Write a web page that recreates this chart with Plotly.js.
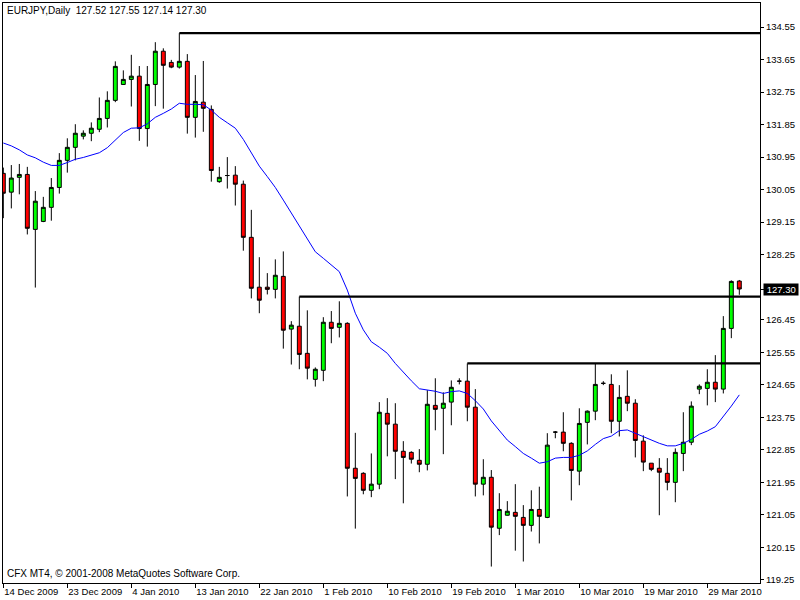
<!DOCTYPE html>
<html>
<head>
<meta charset="utf-8">
<script src="https://cdn.plot.ly/plotly-3.0.1.min.js"></script>
<style>
  html, body { margin: 0; padding: 0; background: #ffffff; }
  #chart { width: 800px; height: 600px; }
</style>
</head>
<body>
<div id="chart"></div>
<script>
// ---- Data (EURJPY, Daily) : one entry per bar, left to right ----
const openP  = [130.50,129.98,130.39,130.47,128.95,129.17,129.56,130.11,130.86,131.22,
                131.53,131.61,131.72,132.02,132.52,132.96,133.10,133.19,131.74,132.96,
                133.88,133.57,133.44,133.60,132.05,132.47,132.27,130.27,130.44,130.45,
                130.20,128.73,127.35,127.35,127.29,127.65,126.19,126.27,125.52,124.80,
                125.05,126.38,126.24,126.35,122.34,122.20,121.73,121.90,123.86,123.56,
                122.81,122.78,122.56,122.45,124.08,124.00,124.17,124.75,124.75,124.03,
                121.90,122.09,120.68,121.04,121.12,120.98,120.76,121.20,120.98,123.34,
                123.34,123.03,122.26,123.61,123.92,124.69,124.66,123.64,124.33,124.14,
                123.09,122.48,122.34,122.20,121.95,122.75,123.06,124.53,124.55,124.72,
                124.53,126.21,127.52];
const highP  = [130.66,130.73,130.76,130.68,130.01,129.85,130.37,131.06,131.47,131.86,
                131.69,131.91,132.60,132.77,133.60,133.35,133.78,133.47,133.47,134.13,
                133.96,133.64,134.38,133.80,133.22,133.61,132.38,130.68,130.95,130.70,
                130.30,129.49,128.18,127.74,128.12,128.34,126.41,127.09,126.71,125.13,
                126.52,126.69,126.96,126.38,123.32,122.23,122.75,124.17,124.28,124.14,
                123.09,122.81,122.87,124.50,124.83,124.44,124.77,124.83,125.24,124.53,
                122.59,122.29,121.65,121.43,121.90,121.32,121.73,121.83,123.31,123.37,
                123.89,123.06,124.00,123.94,125.24,124.75,124.94,124.64,125.05,124.25,
                123.25,122.48,122.62,122.62,122.89,123.89,124.19,124.66,125.08,125.47,
                126.55,127.54,127.55];
const lowP   = [129.26,129.53,129.92,128.81,127.34,129.15,129.19,129.94,130.52,130.86,
                131.44,131.39,131.64,131.77,132.47,132.95,132.35,131.40,131.24,132.36,
                132.29,133.41,133.40,131.60,131.49,131.65,130.27,130.24,130.08,129.61,
                128.36,127.04,126.63,127.15,127.04,125.65,125.21,125.08,124.80,124.60,
                124.75,125.80,125.96,121.56,120.67,121.62,121.54,121.76,122.67,122.04,
                121.37,122.47,122.23,122.28,123.39,122.73,123.53,124.66,123.64,121.56,
                121.59,119.62,120.49,121.03,120.06,119.76,120.59,120.26,120.96,123.17,
                122.81,121.45,121.87,123.00,123.67,124.64,123.31,123.22,123.92,122.64,
                122.26,122.26,121.04,121.73,121.40,122.26,122.98,124.39,124.08,124.17,
                124.41,125.94,127.14];
const closeP = [129.95,130.37,130.47,128.98,129.73,129.56,130.11,130.86,131.22,131.61,
                131.61,131.75,132.02,132.52,133.46,133.10,133.19,131.74,132.96,133.88,
                133.49,133.44,133.60,132.05,132.49,132.30,130.58,130.39,130.44,130.20,
                128.73,127.32,126.99,127.29,127.68,126.16,126.30,125.49,125.11,125.08,
                126.38,126.21,126.35,122.34,122.06,121.73,121.90,123.89,123.56,122.81,
                122.64,122.59,122.45,124.11,123.97,124.14,124.58,124.75,124.03,121.90,
                122.09,120.71,121.20,121.15,121.01,120.76,121.20,121.01,122.98,123.34,
                123.03,122.28,123.58,123.92,124.66,124.69,123.64,124.30,124.14,123.11,
                122.51,122.31,122.23,121.95,122.78,123.06,124.06,124.61,124.72,124.53,
                126.21,127.51,127.30];
// moving average (blue line)
const maValues = [131.34,131.26,131.15,131.01,130.93,130.81,130.72,130.72,130.80,130.89,
                  130.94,131.00,131.07,131.21,131.42,131.63,131.75,131.76,131.87,132.05,
                  132.16,132.28,132.44,132.41,132.41,132.40,132.25,132.05,131.90,131.75,
                  131.44,131.06,130.70,130.41,130.11,129.76,129.40,129.02,128.66,128.33,
                  128.15,127.97,127.78,127.27,126.63,126.17,125.84,125.69,125.52,125.24,
                  124.99,124.76,124.54,124.51,124.47,124.41,124.46,124.48,124.41,124.21,
                  123.98,123.65,123.37,123.12,122.94,122.75,122.62,122.48,122.52,122.62,
                  122.64,122.64,122.70,122.82,123.00,123.16,123.23,123.38,123.40,123.31,
                  123.20,123.12,123.03,122.96,122.96,123.03,123.14,123.28,123.37,123.49,
                  123.77,124.06,124.37];
// horizontal resistance levels: starting bar and price
const levelStartBar = [22, 37, 58];
const levelPrice    = [134.38, 127.09, 125.24];
// date labels every 8 bars
const dateTickBars   = [0, 8, 16, 24, 32, 40, 48, 56, 64, 72, 80, 88];
const dateTickLabels = ["14 Dec 2009","23 Dec 2009","4 Jan 2010","13 Jan 2010","22 Jan 2010",
                        "1 Feb 2010","10 Feb 2010","19 Feb 2010","1 Mar 2010","10 Mar 2010",
                        "19 Mar 2010","29 Mar 2010"];
// price scale labels
const priceTicks = [134.55,133.65,132.75,131.85,130.95,130.05,129.15,128.25,
                    126.45,125.55,124.65,123.75,122.85,121.95,121.05,120.15,119.25];
const symbolTitle = "EURJPY,Daily";
const lastBar = {open: 127.52, high: 127.55, low: 127.14, close: 127.30};
const copyright = "CFX MT4, \u00a9 2001-2008 MetaQuotes Software Corp.";

// ---- Build ----
const barIndex = openP.map((_, i) => i);
const FONT = "Tahoma, 'Liberation Sans', Arial, sans-serif";

const traces = [];
traces.push({
  type: 'candlestick',
  x: barIndex, open: openP, high: highP, low: lowP, close: closeP,
  increasing: {line: {color: '#000000', width: 1}, fillcolor: '#00ff00'},
  decreasing: {line: {color: '#000000', width: 1}, fillcolor: '#ff0000'},
  whiskerwidth: 0,
  showlegend: false, hoverinfo: 'skip'
});
traces.push({
  type: 'scatter', mode: 'lines', x: barIndex, y: maValues,
  line: {color: '#0000ff', width: 1}, showlegend: false, hoverinfo: 'skip'
});
levelStartBar.forEach((b, k) => {
  traces.push({
    type: 'scatter', mode: 'lines',
    x: [b, barIndex.length + 5], y: [levelPrice[k], levelPrice[k]],
    line: {color: '#000000', width: 2.2}, showlegend: false, hoverinfo: 'skip'
  });
});

const fmt = v => v.toFixed(2);
const layout = {
  width: 800, height: 600,
  paper_bgcolor: '#ffffff', plot_bgcolor: '#ffffff',
  margin: {l: 3, r: 40, t: 3, b: 17},
  showlegend: false, hovermode: false,
  boxgap: 0.3,
  font: {family: FONT, size: 9.5, color: '#000000'},
  xaxis: {
    type: 'linear', range: [-0.04, -0.04 + 757 / 8],
    rangeslider: {visible: false},
    showgrid: false, zeroline: false,
    showline: true, mirror: true, linecolor: '#000000', linewidth: 1,
    ticks: 'outside', ticklen: 4, tickcolor: '#000000', tickwidth: 1,
    tickvals: dateTickBars, ticktext: dateTickLabels,
    ticklabelposition: 'outside right',
    tickfont: {family: FONT, size: 9.5, color: '#000000'},
    fixedrange: true
  },
  yaxis: {
    side: 'right',
    range: [119.165, 135.214],
    showgrid: false, zeroline: false,
    showline: true, mirror: true, linecolor: '#000000', linewidth: 1,
    ticks: 'outside', ticklen: 3, tickcolor: '#000000', tickwidth: 1,
    tickvals: priceTicks.concat([lastBar.close]),
    ticktext: priceTicks.map(fmt).concat(['']),
    tickfont: {family: FONT, size: 9.5, color: '#000000'},
    fixedrange: true
  },
  annotations: [
    {
      xref: 'paper', yref: 'paper', x: 0.003, y: 0.9995,
      xanchor: 'left', yanchor: 'top', showarrow: false,
      text: symbolTitle + '\u00a0\u00a0' + [lastBar.open, lastBar.high, lastBar.low, lastBar.close].map(fmt).join(' '),
      font: {family: FONT, size: 10, color: '#000000'}
    },
    {
      xref: 'paper', yref: 'paper', x: 0.002, y: 0.003,
      xanchor: 'left', yanchor: 'bottom', showarrow: false,
      text: copyright,
      font: {family: FONT, size: 10, color: '#000000'}
    },
    {
      xref: 'paper', yref: 'y', x: 1, y: lastBar.close,
      xanchor: 'left', yanchor: 'middle', xshift: 3, showarrow: false,
      text: '\u00a0' + fmt(lastBar.close) + '\u00a0',
      bgcolor: '#000000', borderpad: 0,
      font: {family: FONT, size: 9.5, color: '#ffffff'}
    }
  ]
};

Plotly.newPlot('chart', traces, layout, {displayModeBar: false, staticPlot: true});
</script>
</body>
</html>
